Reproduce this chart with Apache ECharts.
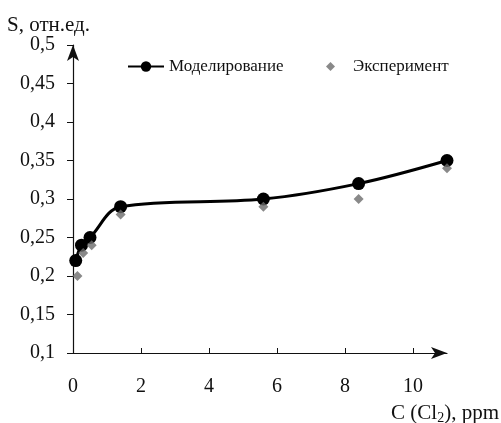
<!DOCTYPE html>
<html><head><meta charset="utf-8">
<script src="https://cdn.jsdelivr.net/npm/echarts@6/dist/echarts.min.js"></script>
<style>html,body{margin:0;padding:0;background:#fff}#c{width:501px;height:423px}</style>
</head><body><div id="c"></div>
<script>
const modelX = [0.08, 0.25, 0.5, 1.4, 5.6, 8.4, 11.0];
const modelY = [0.22, 0.24, 0.25, 0.29, 0.30, 0.32, 0.35];
const expX = [0.13, 0.3, 0.55, 1.4, 5.6, 8.4, 11.0];
const expY = [0.20, 0.23, 0.24, 0.28, 0.29, 0.30, 0.34];
const xTicks = [0, 2, 4, 6, 8, 10];
const yTicks = [0.1, 0.15, 0.2, 0.25, 0.3, 0.35, 0.4, 0.45, 0.5];
const seriesNames = ['Моделирование', 'Эксперимент'];

const font = '"Liberation Serif", "DejaVu Serif", serif';
const chart = echarts.init(document.getElementById('c'));
chart.setOption({
  animation: false,
  backgroundColor: '#fff',
  textStyle: { fontFamily: font },
  title: [
    { text: 'S, отн.ед.', left: 7, top: 15, padding: 0, textStyle: { fontFamily: font, fontSize: 21, fontWeight: 'normal', color: '#111' } },
    { text: 'C (Cl{s|2}), ppm', right: 2, top: 401, padding: 0,
      textStyle: { fontFamily: font, fontSize: 21, fontWeight: 'normal', color: '#111',
        rich: { s: { fontFamily: font, fontSize: 14, verticalAlign: 'bottom', padding: [10, 0, 0, 0], color: '#111' } } } }
  ],
  legend: [
    { data: [seriesNames[0]], left: 127, top: 58, padding: 0, itemWidth: 36, itemHeight: 13, itemGap: 4,
      textStyle: { fontFamily: font, fontSize: 17, color: '#111' } },
    { data: [seriesNames[1]], left: 326, top: 58, padding: 0, itemWidth: 9, itemHeight: 9, itemGap: 4,
      textStyle: { fontFamily: font, fontSize: 17, color: '#111', padding: [0, 0, 0, 13] } }
  ],
  grid: { left: 73, right: 54, top: 45, bottom: 70 },
  xAxis: {
    type: 'value', min: 0, max: 11, interval: 2,
    axisLine: { onZero: false, symbol: ['none', 'arrow'], symbolSize: [9, 16], lineStyle: { color: '#111', width: 1.2 } },
    axisTick: { show: true, inside: true, length: 5, customValues: xTicks, lineStyle: { color: '#111' } },
    axisLabel: { customValues: xTicks, margin: 24, fontFamily: font, fontSize: 20, color: '#111' },
    splitLine: { show: false }
  },
  yAxis: {
    type: 'value', min: 0.1, max: 0.5, interval: 0.05,
    axisLine: { show: true, onZero: false, symbol: ['none', 'arrow'], symbolSize: [9, 16], lineStyle: { color: '#111', width: 1.2 } },
    axisTick: { show: true, inside: false, length: 6, customValues: yTicks, lineStyle: { color: '#111' } },
    axisLabel: { customValues: yTicks, margin: 18, fontFamily: font, fontSize: 20, color: '#111',
      formatter: v => String(+(+v).toFixed(2)).replace('.', ',') },
    splitLine: { show: false }
  },
  series: [
    { name: seriesNames[0], type: 'line', smooth: 0.35,
      data: modelX.map((x, i) => [x, modelY[i]]),
      symbol: 'circle', symbolSize: 13,
      lineStyle: { color: '#000', width: 3 }, itemStyle: { color: '#000' }, z: 2 },
    { name: seriesNames[1], type: 'scatter',
      data: expX.map((x, i) => [x, expY[i]]),
      symbol: 'diamond', symbolSize: 10,
      itemStyle: { color: '#6b6b6b' }, z: 3 }
  ]
});
</script></body></html>
